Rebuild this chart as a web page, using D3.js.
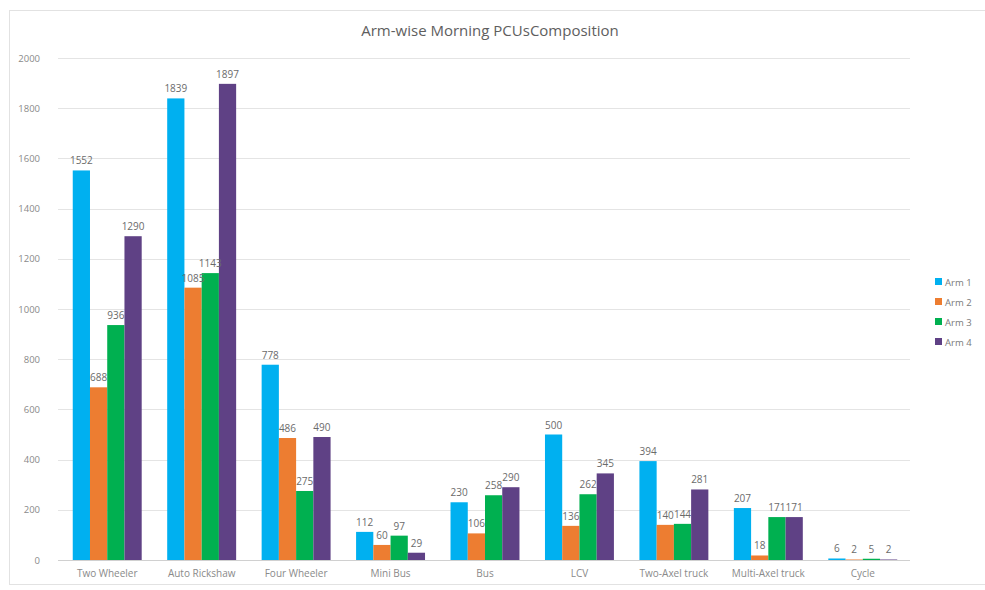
<!DOCTYPE html>
<html>
<head>
<meta charset="utf-8">
<script src="https://cdn.jsdelivr.net/npm/d3@7"></script>
<style>
  html, body { margin: 0; padding: 0; background: #ffffff; }
  svg { display: block; font-family: "Open Sans", "Noto Sans", sans-serif; }
</style>
</head>
<body>
<svg id="chart" width="985" height="590"></svg>
<script>
// Vehicle classes along the x axis
const categories = ["Two Wheeler", "Auto Rickshaw", "Four Wheeler", "Mini Bus", "Bus",
                    "LCV", "Two-Axel truck", "Multi-Axel truck", "Cycle"];
const seriesNames = ["Arm 1", "Arm 2", "Arm 3", "Arm 4"];
// PCU counts per arm, in category order
const arm1 = [1552, 1839, 778, 112, 230, 500, 394, 207, 6];
const arm2 = [688, 1085, 486, 60, 106, 136, 140, 18, 2];
const arm3 = [936, 1143, 275, 97, 258, 262, 144, 171, 5];
const arm4 = [1290, 1897, 490, 29, 290, 345, 281, 171, 2];
const yTicks = [0, 200, 400, 600, 800, 1000, 1200, 1400, 1600, 1800, 2000];
const colors = ["#00b0f0", "#ed7d31", "#00b050", "#5f4185"];

const series = [arm1, arm2, arm3, arm4];
const svg = d3.select("#chart");

// chart frame
svg.append("rect").attr("x", 9.5).attr("y", 10.5).attr("width", 990).attr("height", 574)
  .attr("fill", "#ffffff").attr("stroke", "#e2e2e2");

const x0 = d3.scaleBand().domain(categories).range([60, 910]).paddingInner(0.27).paddingOuter(0.135);
const x1 = d3.scaleBand().domain(seriesNames).range([0, x0.bandwidth()]).padding(0);
const y = d3.scaleLinear().domain([0, 2000]).range([560, 58]);

// gridlines
svg.append("g").selectAll("line").data(yTicks).join("line")
  .attr("x1", 58).attr("x2", 910)
  .attr("y1", d => Math.round(y(d)) + 0.5).attr("y2", d => Math.round(y(d)) + 0.5)
  .attr("stroke", d => d === 0 ? "#d0d0d0" : "#e4e4e4").attr("stroke-width", 1);

// y axis labels
const yAxis = d3.axisLeft(y).tickValues(yTicks).tickFormat(d3.format("d")).tickSize(0).tickPadding(12);
const gy = svg.append("g").attr("transform", "translate(52,0)").call(yAxis);
gy.select(".domain").remove();
gy.selectAll("text").attr("fill", "#8a8a8a").attr("font-size", 9.5)
  .attr("font-family", "Open Sans, sans-serif");

// x axis labels
const xAxis = d3.axisBottom(x0).tickSize(0).tickPadding(10);
const gx = svg.append("g").attr("transform", "translate(0,560)").call(xAxis);
gx.select(".domain").remove();
gx.selectAll("text").attr("fill", "#8a8a8a").attr("font-size", 10)
  .attr("font-family", "Open Sans, sans-serif");

// bars
const groups = svg.append("g").selectAll("g").data(categories).join("g")
  .attr("transform", d => `translate(${x0(d)},0)`);

groups.each(function(cat, ci) {
  const g = d3.select(this);
  seriesNames.forEach((s, si) => {
    const v = series[si][ci];
    g.append("rect")
      .attr("x", x1(s)).attr("width", x1.bandwidth())
      .attr("y", y(v)).attr("height", y(0) - y(v))
      .attr("fill", colors[si]);
  });
  seriesNames.forEach((s, si) => {
    const v = series[si][ci];
    g.append("text")
      .attr("x", x1(s) + x1.bandwidth() / 2).attr("y", y(v) - 6)
      .attr("text-anchor", "middle").attr("font-size", 10).attr("fill", "#6b6b6b")
      .text(v);
  });
});

// title
svg.append("text").attr("x", 490).attr("y", 36).attr("text-anchor", "middle")
  .attr("font-size", 15).attr("fill", "#5e5e5e").text("Arm-wise Morning PCUsComposition");

// legend
const legend = svg.append("g").attr("transform", "translate(935,282)");
seriesNames.forEach((s, i) => {
  const row = legend.append("g").attr("transform", `translate(0,${i * 20})`);
  row.append("rect").attr("x", 0).attr("y", -4).attr("width", 7).attr("height", 7).attr("fill", colors[i]);
  row.append("text").attr("x", 10).attr("y", 3.5).attr("font-size", 9.5).attr("fill", "#7a7a7a").text(s);
});
</script>
</body>
</html>
